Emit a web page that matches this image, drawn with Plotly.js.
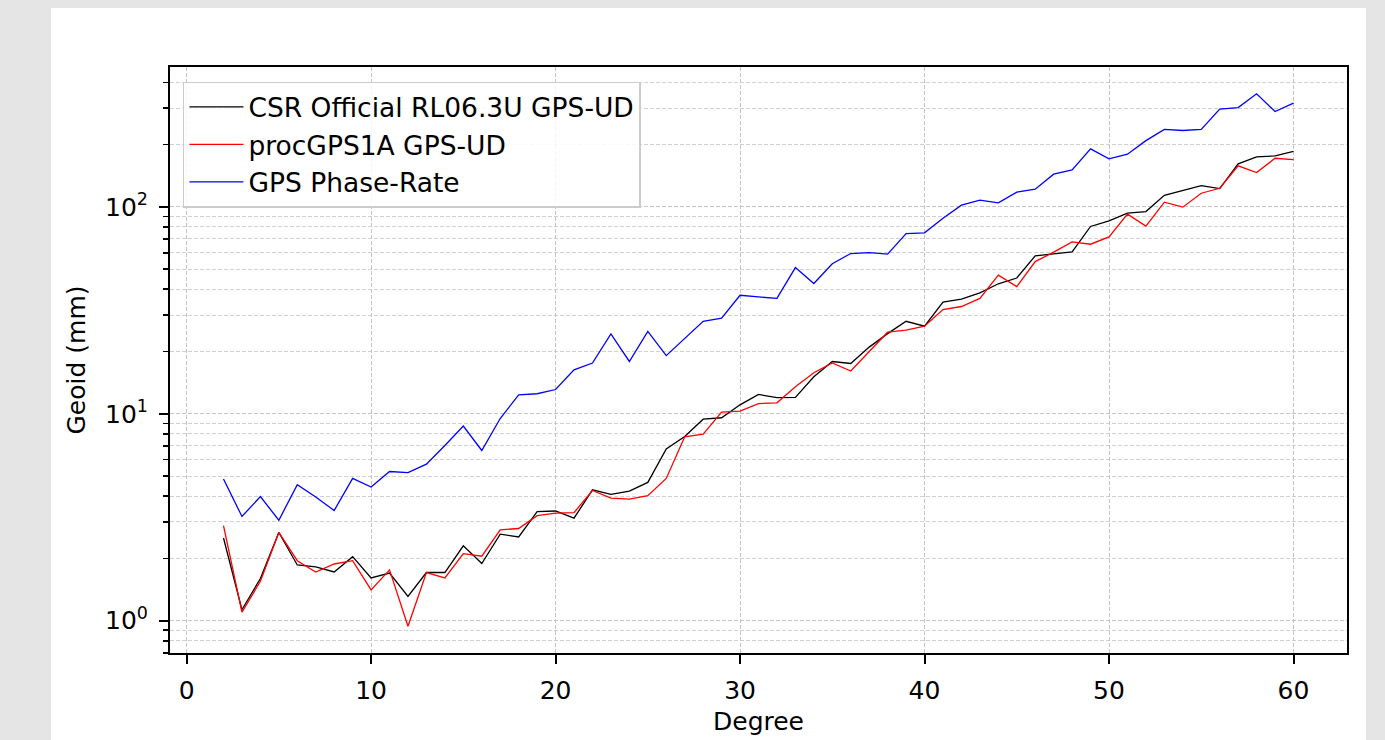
<!DOCTYPE html>
<html>
<head>
<meta charset="utf-8">
<script src="https://cdn.plot.ly/plotly-3.0.1.min.js"></script>
<style>
  html, body { margin: 0; padding: 0; background: #e5e5e5; width: 1385px; height: 740px; overflow: hidden; }
  #chart { position: absolute; left: 51px; top: 8px; width: 1315px; height: 732px; background: #ffffff; }
</style>
</head>
<body>
<div id="chart"></div>
<script>
// Spherical-harmonic degree
const degree = [2,3,4,5,6,7,8,9,10,11,12,13,14,15,16,17,18,19,20,21,22,23,24,25,26,27,28,29,30,31,32,33,34,35,36,37,38,39,40,41,42,43,44,45,46,47,48,49,50,51,52,53,54,55,56,57,58,59,60];

// Geoid degree amplitudes (mm)
const csrOfficial = [2.51,1.13,1.60,2.67,1.86,1.82,1.72,2.04,1.61,1.70,1.31,1.71,1.71,2.30,1.89,2.62,2.54,3.37,3.39,3.13,4.29,4.08,4.23,4.66,6.77,7.77,9.42,9.57,11.05,12.4,11.98,12.0,15.1,17.9,17.5,21.0,24.4,28.0,26.5,34.7,35.8,38.4,42.5,45.3,58.0,59.5,60.6,80.4,85.5,93.2,94.9,113.8,119.9,126.7,122.5,161.4,174.5,176.3,185.7];

const procGPS1A = [2.88,1.10,1.55,2.67,1.95,1.72,1.88,1.95,1.41,1.76,0.94,1.71,1.61,2.11,2.05,2.75,2.79,3.22,3.31,3.33,4.26,3.91,3.87,4.02,4.87,7.74,7.98,10.2,10.3,11.2,11.3,13.5,15.8,17.6,16.1,20.0,24.8,25.4,26.5,31.9,33.0,36.1,46.8,41.2,54.4,60.4,67.7,66.0,71.6,92.2,80.7,105.4,99.7,116.4,123.0,157.8,146.5,171.8,169.3];

const gpsPhaseRate = [4.84,3.19,3.98,3.06,4.54,3.96,3.41,4.87,4.43,5.26,5.20,5.71,7.03,8.72,6.65,9.49,12.35,12.5,13.1,16.3,17.6,24.3,17.9,25.0,19.1,23.2,28.0,29.0,37.4,36.7,36.1,50.9,42.6,53.1,59.5,60.1,59.1,74.3,74.9,88.2,101.9,107.7,104.5,117.7,121.8,143.9,151.0,190.6,170.6,179.8,209.0,237.0,234.0,237.0,296.6,302.0,352.0,289.0,317.0];

const seriesNames = ['CSR Official RL06.3U GPS-UD', 'procGPS1A GPS-UD', 'GPS Phase-Rate'];

// Axis ticks
const xTickVals = [0,10,20,30,40,50,60];
const yTickVals = [1,10,100];
const yTickText = ['10<sup>0</sup>','10<sup>1</sup>','10<sup>2</sup>'];
const yMinorVals = [0.7,0.8,0.9,2,3,4,5,6,7,8,9,20,30,40,50,60,70,80,90,200,300,400];

const font = 'DejaVu Sans, Verdana, sans-serif';
const lw = 1.3;

const traces = [
  {x: degree, y: csrOfficial, name: seriesNames[0], type: 'scatter', mode: 'lines', line: {color: '#000000', width: lw}},
  {x: degree, y: procGPS1A, name: seriesNames[1], type: 'scatter', mode: 'lines', line: {color: '#ff0000', width: lw}},
  {x: degree, y: gpsPhaseRate, name: seriesNames[2], type: 'scatter', mode: 'lines', line: {color: '#0000ff', width: lw}}
];

const gridColor = '#c4c4c4';
const dash = '4px,2px';

const layout = {
  width: 1315,
  height: 732,
  margin: {l: 119, r: 19, t: 59, b: 87, pad: 0},
  paper_bgcolor: '#ffffff',
  plot_bgcolor: '#ffffff',
  font: {family: font, size: 25, color: '#000000'},
  showlegend: true,
  legend: {
    x: 0.011, y: 0.975, xanchor: 'left', yanchor: 'top',
    bgcolor: 'rgba(255,255,255,0.85)',
    bordercolor: '#cccccc', borderwidth: 1.5,
    font: {family: font, size: 26.5, color: '#000000'},
    itemwidth: 54,
    tracegroupgap: 0
  },
  xaxis: {
    range: [-0.9, 62.9],
    tickmode: 'array', tickvals: xTickVals,
    ticks: 'outside', ticklen: 9, tickwidth: 2, tickcolor: '#000000',
    showline: true, linecolor: '#000000', linewidth: 2, mirror: true,
    showgrid: true, gridcolor: gridColor, gridwidth: 1, griddash: dash,
    zeroline: false,
    tickfont: {family: font, size: 25},
    ticklabelstandoff: 5,
    title: {text: 'Degree', font: {family: font, size: 25}, standoff: 8}
  },
  yaxis: {
    type: 'log',
    range: [-0.156, 2.676],
    tickmode: 'array', tickvals: yTickVals, ticktext: yTickText,
    ticks: 'outside', ticklen: 9, tickwidth: 2, tickcolor: '#000000',
    showline: true, linecolor: '#000000', linewidth: 2, mirror: true,
    showgrid: true, gridcolor: gridColor, gridwidth: 1, griddash: dash,
    zeroline: false,
    tickfont: {family: font, size: 25},
    ticklabelstandoff: 6,
    minor: {
      tickmode: 'array', tickvals: yMinorVals,
      ticks: 'outside', ticklen: 5, tickwidth: 1.5, tickcolor: '#000000',
      showgrid: true, gridcolor: gridColor, gridwidth: 0.8, griddash: dash
    },
    title: {text: 'Geoid (mm)', font: {family: font, size: 25}, standoff: 12}
  }
};

Plotly.newPlot('chart', traces, layout, {staticPlot: true, displayModeBar: false});
</script>
</body>
</html>
